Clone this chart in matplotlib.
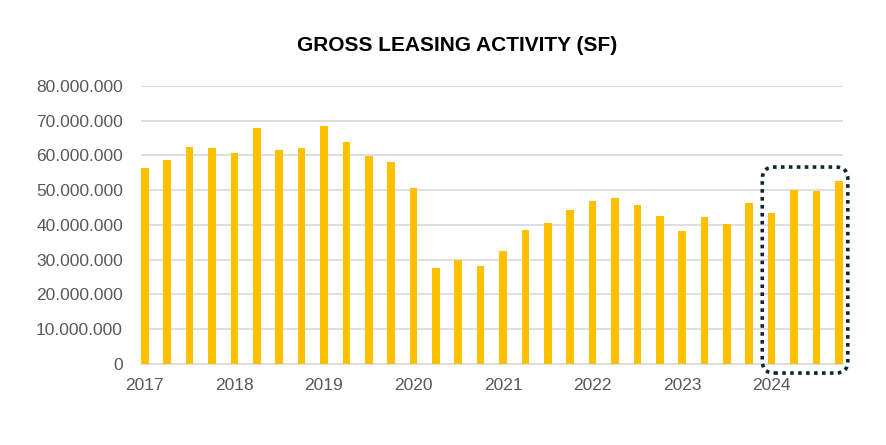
import matplotlib.pyplot as plt
from matplotlib.patches import FancyBboxPatch
from matplotlib.ticker import FuncFormatter

# Quarterly gross leasing activity, 2017 Q1 - 2024 Q4
years = ['2017', '2018', '2019', '2020', '2021', '2022', '2023', '2024']
leasing_sf = [
    56.4, 58.7, 62.4, 62.2,   # 2017
    60.7, 67.9, 61.6, 62.2,   # 2018
    68.6, 63.8, 59.8, 58.0,   # 2019
    50.7, 27.7, 30.0, 28.1,   # 2020
    32.4, 38.6, 40.7, 44.3,   # 2021
    46.9, 47.8, 45.8, 42.6,   # 2022
    38.4, 42.3, 40.4, 46.4,   # 2023
    43.4, 50.1, 49.8, 52.7,   # 2024
]
leasing_sf = [v * 1e6 for v in leasing_sf]
highlight_year = '2024'

plt.rcParams['font.family'] = ['Liberation Sans', 'DejaVu Sans']

fig = plt.figure(figsize=(8.87, 4.45), dpi=100)
ax = fig.add_axes([0.159, 0.182, 0.791, 0.625])

bar_w = 0.34
x = list(range(len(leasing_sf)))
ax.bar(x, leasing_sf, width=bar_w, color='#FFC000', zorder=3)

ax.set_xlim(-bar_w / 2, len(x) - 1 + bar_w / 2)
ax.set_ylim(0, 80e6)
ax.set_yticks([i * 10e6 for i in range(9)])
ax.yaxis.set_major_formatter(FuncFormatter(lambda v, p: f'{int(v):,}'.replace(',', '.')))
ax.set_xticks([i * 4 for i in range(len(years))])
ax.set_xticklabels(years)

ax.grid(axis='y', color='#d9d9d9', linewidth=1.2, zorder=0)
for s in ['top', 'right', 'left']:
    ax.spines[s].set_visible(False)
ax.spines['bottom'].set_color('#d9d9d9')
ax.spines['bottom'].set_linewidth(1.2)
ax.tick_params(axis='both', length=0, labelsize=12.5, labelcolor='#595959')
ax.tick_params(axis='y', pad=13)
ax.tick_params(axis='x', pad=10)

fig.text(0.515, 0.897, 'GROSS LEASING ACTIVITY (SF)', ha='center', va='center',
         fontsize=15, fontweight='bold', color='black')

# dotted rounded box around the latest year
i0 = years.index(highlight_year) * 4
hl = leasing_sf[i0:i0 + 4]
fig.canvas.draw()
(x0, y0) = ax.transData.transform((i0 - 0.42, -2.6e6))
(x1, y1) = ax.transData.transform((i0 + 3 + 0.4, max(hl) * 1.075))
dpi = fig.dpi
box = FancyBboxPatch((x0 / dpi, y0 / dpi), (x1 - x0) / dpi, (y1 - y0) / dpi,
                     boxstyle='round,pad=0,rounding_size=0.12',
                     transform=fig.dpi_scale_trans, fill=False,
                     edgecolor='#0d2633', linewidth=2.6, linestyle=(0, (1, 1.2)),
                     clip_on=False, zorder=5)
fig.patches.append(box)

fig.savefig('out.png', dpi=100)
